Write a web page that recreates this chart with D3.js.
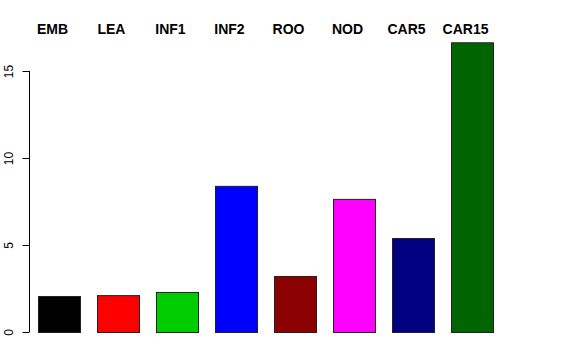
<!DOCTYPE html>
<html>
<head>
<meta charset="utf-8">
<script src="https://cdn.jsdelivr.net/npm/d3@7"></script>
<style>
  body { margin: 0; background: #fff; }
  svg { display: block; }
</style>
</head>
<body>
<div id="vis"></div>
<script>
// bar chart, R barplot look

const FRAME_WIDTH = 576;
const FRAME_HEIGHT = 360;

// data
const categories = ["EMB", "LEA", "INF1", "INF2", "ROO", "NOD", "CAR5", "CAR15"];
const values = [2.07, 2.12, 2.3, 8.4, 3.22, 7.65, 5.4, 16.65];
const barColors = ["#000000", "#ff0000", "#00cd00", "#0000ff", "#8b0000", "#ff00ff", "#000080", "#006400"];
const yTicks = [0, 5, 10, 15];

const FRAME = d3.select("#vis")
                .append("svg")
                  .attr("width", FRAME_WIDTH)
                  .attr("height", FRAME_HEIGHT);

// scales
const X_SCALE = d3.scaleBand()
                  .domain(categories)
                  .range([21, 510])
                  .paddingInner(0.288)
                  .paddingOuter(0.288);

const Y_SCALE = d3.scaleLinear()
                  .domain([0, 17])
                  .range([332, 332 - 17.4 * 17]);

// bars
FRAME.selectAll(".bar")
     .data(categories)
     .enter()
     .append("rect")
       .attr("class", "bar")
       .attr("x", (d) => { return X_SCALE(d) + 0.5; })
       .attr("y", (d, i) => { return Y_SCALE(values[i]) + 0.5; })
       .attr("width", X_SCALE.bandwidth())
       .attr("height", (d, i) => { return Y_SCALE(0) - Y_SCALE(values[i]); })
       .attr("fill", (d, i) => { return barColors[i]; })
       .attr("stroke", "#222")
       .attr("stroke-width", 1);

// category labels on top (sit a bit left of the bar centres, like the original)
FRAME.selectAll(".lab")
     .data(categories)
     .enter()
     .append("text")
       .attr("class", "lab")
       .attr("x", (d) => { return X_SCALE(d) + X_SCALE.bandwidth() / 2 - 6.5; })
       .attr("y", 34)
       .attr("text-anchor", "middle")
       .attr("font-family", "Liberation Sans, Arial, sans-serif")
       .attr("font-weight", "bold")
       .attr("font-size", "14px")
       .text((d) => { return d; });

// y axis
const yAxis = FRAME.append("g")
     .attr("transform", "translate(29.5,0)")
     .call(d3.axisLeft(Y_SCALE).tickValues(yTicks).tickSize(7).tickSizeOuter(0));

yAxis.select(".domain").remove();
yAxis.append("line")
     .attr("x1", 0).attr("x2", 0)
     .attr("y1", Y_SCALE(0)).attr("y2", Y_SCALE(15))
     .attr("stroke", "#000");

yAxis.selectAll(".tick text")
     .attr("font-family", "Liberation Sans, Arial, sans-serif")
     .attr("font-size", "12px")
     .attr("fill", "#000")
     .attr("transform", "rotate(-90)")
     .attr("x", 0)
     .attr("y", -17)
     .attr("dy", "0")
     .attr("text-anchor", "middle");
</script>
</body>
</html>
